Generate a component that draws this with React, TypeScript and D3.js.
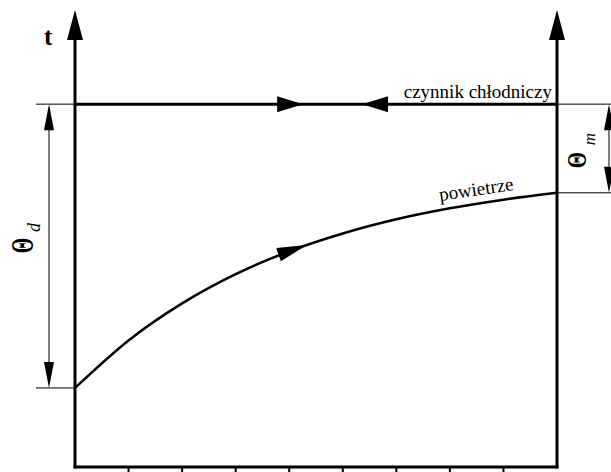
import React, { useEffect, useRef } from "react";
import * as d3 from "d3";

// Horizontal axis: 9 equal segments (ticks), no labels
const xTicks = [0, 1, 2, 3, 4, 5, 6, 7, 8, 9];
// Air ("powietrze") temperature (arbitrary units, 0..100 axis)
const airX = [0, 1, 2, 3, 4, 5, 6, 7, 8, 9];
const airT = [17.3, 27.7, 35.8, 42.2, 47.2, 51.1, 54.2, 56.6, 58.5, 60.0];
// Refrigerant ("czynnik chłodniczy") constant temperature
const coolantX = [0, 9];
const coolantT = [79.4, 79.4];
const coolantArrowRight = 4.26;
const coolantArrowLeft = 5.36;
const airArrowAt = 4.33;

const W = 611;
const H = 472;

export default function App() {
  const ref = useRef<SVGSVGElement | null>(null);

  useEffect(() => {
    const svg = d3.select(ref.current);
    svg.selectAll("*").remove();

    const x = d3.scaleLinear().domain([0, 9]).range([75, 557]);
    const y = d3.scaleLinear().domain([0, 100]).range([467, 10]);
    const font = "'Liberation Serif', 'Times New Roman', serif";

    const tri = (tx: number, ty: number, ang: number, len: number, hw: number) => {
      const c = Math.cos(ang), s = Math.sin(ang);
      const bx = tx - c * len, by = ty - s * len;
      const pts = [
        [tx, ty],
        [bx - s * hw, by + c * hw],
        [bx + s * hw, by - c * hw],
      ];
      svg.append("polygon").attr("points", pts.map((p) => p.join(",")).join(" ")).attr("fill", "#000");
    };

    const x0 = x(0), x9 = x(9);
    const yTop = y(100), yBot = y(0);
    const yCool = y(coolantT[0]);
    const yAir0 = y(airT[0]);
    const yAir9 = y(airT[airT.length - 1]);

    // thin extension lines
    const thin = (x1: number, y1: number, x2: number, y2: number) =>
      svg.append("line").attr("x1", x1).attr("y1", y1).attr("x2", x2).attr("y2", y2)
        .attr("stroke", "#000").attr("stroke-width", 1);
    thin(36, yCool, x0, yCool);
    thin(36, yAir0, x0, yAir0);
    thin(x9, yCool, W, yCool);
    thin(x9, yAir9, W, yAir9);

    // dimension Θd
    const dX = 49;
    thin(dX, yCool + 20, dX, yAir0 - 20);
    tri(dX, yCool, -Math.PI / 2, 26, 5);
    tri(dX, yAir0, Math.PI / 2, 26, 5);
    // dimension Θm
    const mX = 609;
    thin(mX, yCool + 20, mX, yAir9 - 20);
    tri(mX, yCool, -Math.PI / 2, 26, 5);
    tri(mX, yAir9, Math.PI / 2, 26, 5);

    // axes
    const thick = (x1: number, y1: number, x2: number, y2: number, w = 3) =>
      svg.append("line").attr("x1", x1).attr("y1", y1).attr("x2", x2).attr("y2", y2)
        .attr("stroke", "#000").attr("stroke-width", w).attr("stroke-linecap", "square");
    thick(x0, yBot, x0, yTop + 25);
    thick(x9, yBot, x9, yTop + 25);
    thick(x0, yBot, x9, yBot);
    tri(x0, yTop, -Math.PI / 2, 30, 8);
    tri(x9, yTop, -Math.PI / 2, 30, 8);
    xTicks.forEach((t) => {
      if (t === 0 || t === 9) return;
      svg.append("line").attr("x1", x(t)).attr("x2", x(t)).attr("y1", yBot).attr("y2", yBot + 10)
        .attr("stroke", "#000").attr("stroke-width", 2);
    });

    // coolant line
    svg.append("path")
      .attr("d", d3.line<number>().x((d, i) => x(coolantX[i])).y((d) => y(d))(coolantT) || "")
      .attr("fill", "none").attr("stroke", "#000").attr("stroke-width", 3);
    tri(x(coolantArrowRight), yCool, 0, 26, 8);
    tri(x(coolantArrowLeft), yCool, Math.PI, 26, 8);

    // air curve
    const airPath = svg.append("path")
      .attr("d", d3.line<number>().x((d, i) => x(airX[i])).y((d) => y(d)).curve(d3.curveMonotoneX)(airT) || "")
      .attr("fill", "none").attr("stroke", "#000").attr("stroke-width", 2.5);
    const node = airPath.node() as SVGPathElement;
    const total = node.getTotalLength();
    let lo = 0, hi = total;
    const target = x(airArrowAt);
    for (let i = 0; i < 40; i++) {
      const mid = (lo + hi) / 2;
      if (node.getPointAtLength(mid).x < target) lo = mid; else hi = mid;
    }
    const p = node.getPointAtLength(lo);
    const p2 = node.getPointAtLength(lo - 2);
    const ang = Math.atan2(p.y - p2.y, p.x - p2.x);
    tri(p.x, p.y, ang, 30, 7);

    // texts
    svg.append("text").attr("x", 44).attr("y", 45).text("t")
      .attr("font-family", font).attr("font-weight", "bold").attr("font-size", 25);
    svg.append("text").attr("x", 552).attr("y", 98).attr("text-anchor", "end").text("czynnik chłodniczy")
      .attr("font-family", font).attr("font-size", 19);
    svg.append("text").attr("transform", "translate(440,201) rotate(-8.5)").text("powietrze")
      .attr("font-family", font).attr("font-size", 19);

    const theta = (bx: number, cy: number, size: number, sy: number) => {
      svg.append("text")
        .attr("transform", `translate(${bx},${cy}) rotate(-90) scale(1,${sy})`)
        .attr("text-anchor", "middle").attr("font-family", font).attr("font-weight", "bold")
        .attr("font-size", size).text("Θ");
    };
    const sub = (bx: number, cy: number, size: number, s: string) => {
      svg.append("text")
        .attr("transform", `translate(${bx},${cy}) rotate(-90)`)
        .attr("text-anchor", "middle").attr("font-family", font).attr("font-style", "italic")
        .attr("font-size", size).text(s);
    };
    theta(33, 245.5, 20, 1.55);
    sub(40, 227.5, 18, "d");
    theta(586, 160, 21, 1.25);
    sub(595, 139, 17, "m");
  }, []);

  return (
    <svg
      ref={ref}
      width={W}
      height={H}
      style={{ position: "absolute", left: 0, top: 0, background: "#fff" }}
    />
  );
}
